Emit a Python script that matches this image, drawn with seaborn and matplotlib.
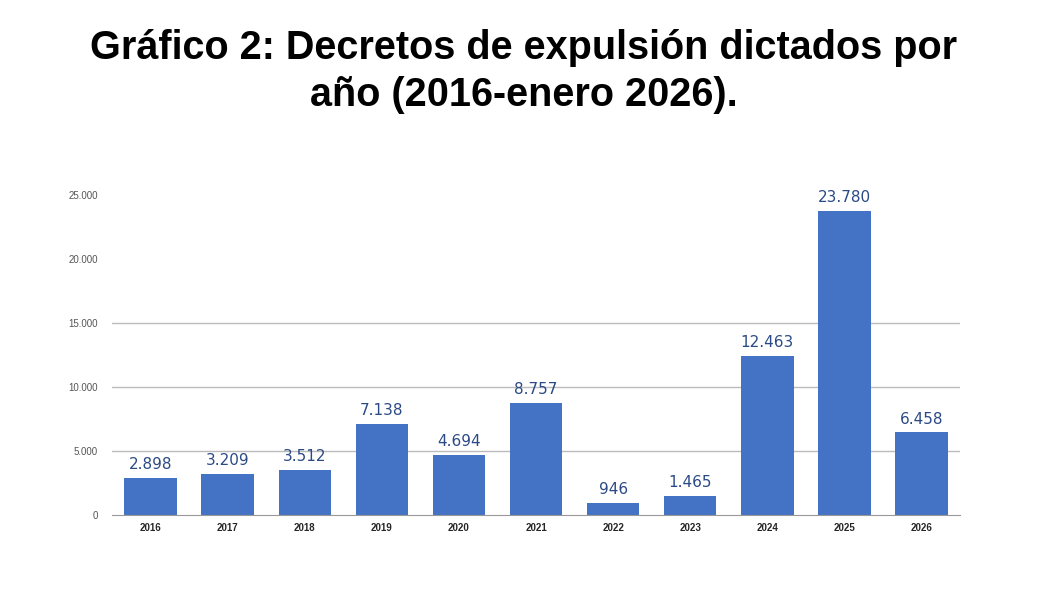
import matplotlib
matplotlib.use("Agg")
import matplotlib.pyplot as plt
import seaborn as sns
import pandas as pd

years = ["2016", "2017", "2018", "2019", "2020", "2021", "2022", "2023", "2024", "2025", "2026"]
decretos = [2898, 3209, 3512, 7138, 4694, 8757, 946, 1465, 12463, 23780, 6458]
y_ticks = [0, 5000, 10000, 15000, 20000, 25000]

df = pd.DataFrame({"year": years, "decretos": decretos})

sns.set_style("white")
plt.rcParams['font.family'] = ['Liberation Sans', 'DejaVu Sans']

fig = plt.figure(figsize=(10.47, 6.08), dpi=100)
ax = fig.add_axes([0.107, 0.153, 0.81, 0.526])
sns.barplot(data=df, x="year", y="decretos", color="#4472C4", saturation=1, width=0.68,
            linewidth=0, ax=ax)

ax.set_ylim(0, 25000)
ax.set_yticks(y_ticks)
ax.set_yticklabels([f"{v:,}".replace(",", ".") for v in y_ticks], fontsize=7, color="#555555")
for v in y_ticks[1:4]:
    ax.axhline(v, color="#BBBBBB", lw=1, zorder=0)
ax.tick_params(axis="x", labelsize=7, length=0, pad=6)
ax.tick_params(axis="y", length=0, pad=10)
for lbl in ax.get_xticklabels():
    lbl.set_fontweight("bold")
ax.set_xlabel("")
ax.set_ylabel("")
for s in ["top", "right", "left"]:
    ax.spines[s].set_visible(False)
ax.spines["bottom"].set_color("#999999")

for i, v in enumerate(decretos):
    ax.text(i, v + 450, f"{v:,}".replace(",", "."), ha="center", va="bottom",
            fontsize=11, color="#2B4A85", family=["DejaVu Sans"])

fig.text(0.5, 0.882, "Gráfico 2: Decretos de expulsión dictados por\naño (2016-enero 2026).",
         ha="center", va="center", fontsize=28.5, fontweight="bold", color="black",
         linespacing=1.3)

fig.savefig("out.png", dpi=100, facecolor="white")
